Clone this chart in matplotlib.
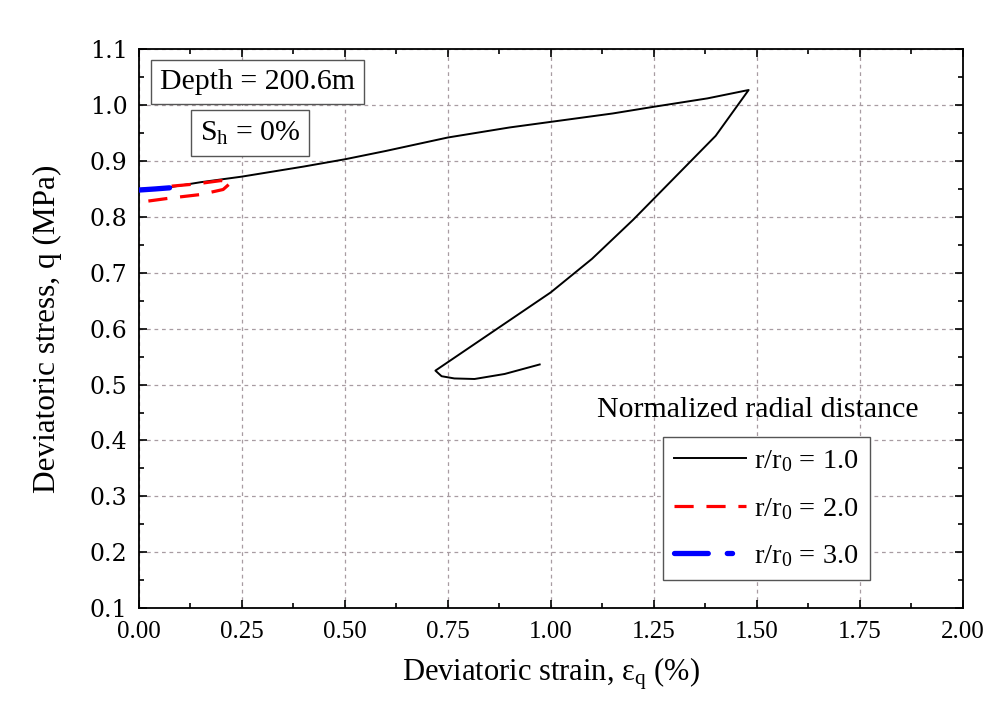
import numpy as np
import matplotlib
matplotlib.use("Agg")
import matplotlib.pyplot as plt
from matplotlib.ticker import MultipleLocator, FormatStrFormatter

plt.rcParams['font.family'] = ['Liberation Serif', 'DejaVu Serif']
plt.rcParams['mathtext.fontset'] = 'custom'
plt.rcParams['mathtext.rm'] = 'Liberation Serif'
plt.rcParams['mathtext.it'] = 'Liberation Serif:italic'

# r/r0 = 1.0 : loading, unloading, small reload
strain_r1 = [0.0, 0.075, 0.15, 0.25, 0.40, 0.50, 0.60, 0.75, 0.90, 1.00, 1.15, 1.25,
             1.38, 1.48, 1.40, 1.30, 1.20, 1.10, 1.00, 0.85, 0.72, 0.735,
             0.766, 0.815, 0.888, 0.973]
stress_r1 = [0.850, 0.853, 0.862, 0.872, 0.890, 0.903, 0.918, 0.942, 0.960, 0.970,
             0.985, 0.997, 1.012, 1.027, 0.945, 0.870, 0.795, 0.725, 0.665,
             0.590, 0.525, 0.515, 0.511, 0.510, 0.519, 0.536]

# r/r0 = 2.0
strain_r2 = [0.08, 0.14, 0.20, 0.225, 0.205, 0.15, 0.08, 0.02]
stress_r2 = [0.855, 0.859, 0.865, 0.862, 0.849, 0.840, 0.834, 0.828]

# r/r0 = 3.0
strain_r3 = [0.0, 0.04, 0.075]
stress_r3 = [0.848, 0.850, 0.852]

labels = [r'r/r$_0$ = 1.0', r'r/r$_0$ = 2.0', r'r/r$_0$ = 3.0']

fig = plt.figure(figsize=(10.01, 7.13), dpi=100)
ax = fig.add_axes([0.1385, 0.147, 0.8235, 0.784])

ax.plot(strain_r1, stress_r1, color='black', lw=1.4, label=labels[0], zorder=3)
ax.plot(strain_r2, stress_r2, color='red', lw=2.3, dashes=(6, 4), label=labels[1], zorder=4)
ax.plot(strain_r3, stress_r3, color='blue', lw=3.8, dashes=(6.4, 3.6, 1, 3.6),
        dash_capstyle='round', label=labels[2], zorder=5)

ax.set_xlim(0, 2.0)
ax.set_ylim(0.1, 1.1)
ax.xaxis.set_major_locator(MultipleLocator(0.25))
ax.xaxis.set_minor_locator(MultipleLocator(0.125))
ax.yaxis.set_major_locator(MultipleLocator(0.1))
ax.yaxis.set_minor_locator(MultipleLocator(0.05))
ax.xaxis.set_major_formatter(FormatStrFormatter('%.2f'))
ax.yaxis.set_major_formatter(FormatStrFormatter('%.1f'))

ax.tick_params(which='both', direction='in', top=True, right=True, width=1.2)
ax.tick_params(which='major', length=6)
ax.tick_params(which='minor', length=3.5)
ax.tick_params(axis='x', labelsize=18, pad=9)
ax.tick_params(axis='y', labelsize=17, pad=8)
for t in ax.get_yticklabels():
    t.set_family('DejaVu Serif')
for s in ax.spines.values():
    s.set_linewidth(1.3)

ax.grid(True, which='major', color='#a89ca2', linestyle=(0, (3, 3)), lw=0.9)
ax.set_axisbelow(True)

ax.set_xlabel('Deviatoric strain, ε$_\\mathrm{q}$ (%)', fontsize=22, labelpad=9)
ax.set_ylabel('Deviatoric stress, q (MPa)', fontsize=22.5, labelpad=20)

box = dict(boxstyle='square,pad=0.3', facecolor='white', edgecolor='#555555', lw=1.0)
fig.text(0.2572, 0.885, 'Depth = 200.6m', fontsize=21.5, ha='center', va='center', bbox=box)
fig.text(0.2498, 0.8135, 'S$_\\mathrm{h}$ = 0%', fontsize=21.5, ha='center', va='center', bbox=box)

fig.text(0.757, 0.425, 'Normalized radial distance', fontsize=21.5, ha='center', va='center')

leg = ax.legend(loc='upper left', bbox_to_anchor=(0.6623, 0.3871), bbox_transform=fig.transFigure,
                fontsize=20.5, frameon=True, fancybox=False, handlelength=2.5,
                handletextpad=0.3, labelspacing=0.75, borderpad=0.4, borderaxespad=0)
leg.get_frame().set_edgecolor('#555555')
leg.get_frame().set_linewidth(1.0)
leg.get_frame().set_alpha(1)

fig.savefig('out.png', dpi=100)
